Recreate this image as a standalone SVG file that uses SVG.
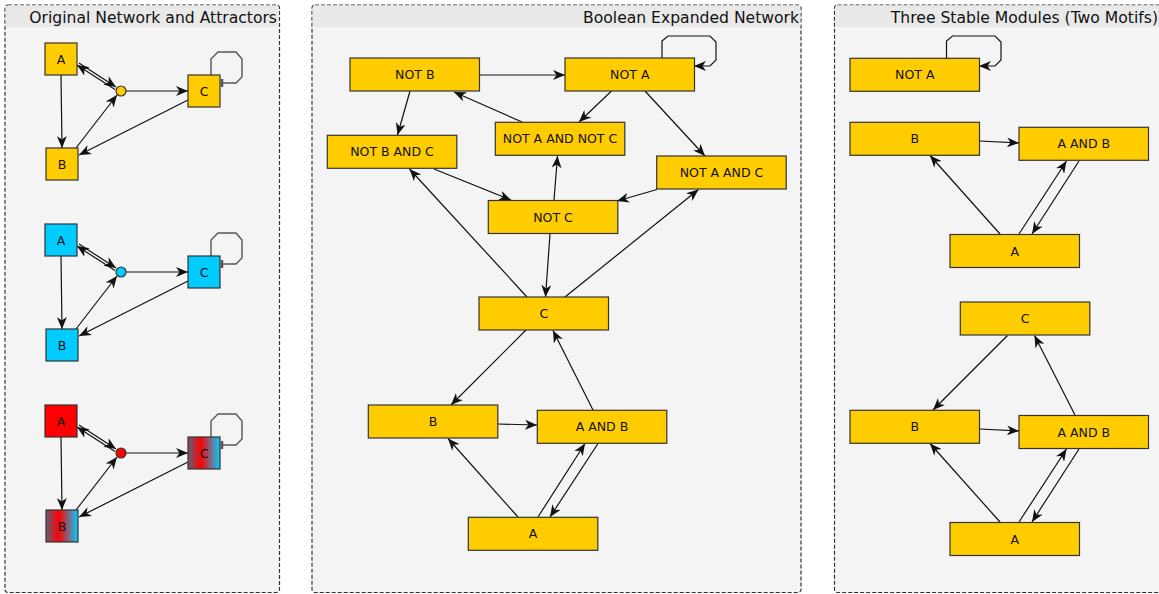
<svg xmlns="http://www.w3.org/2000/svg" width="1159" height="594" viewBox="0 0 1159 594">
<defs>
<style>
.panel{fill:#f4f4f4;stroke:#333;stroke-width:1.2;stroke-dasharray:4,2}
.hdr{fill:#e9e9e9}
.title{font-family:"DejaVu Sans",sans-serif;font-size:15.6px;fill:#111;text-anchor:end}
.nb{fill:#ffcc00;stroke:#333;stroke-width:1.2}
.cy{fill:#00ccff;stroke:#333;stroke-width:1.2}
.rd{fill:#ff0000;stroke:#333;stroke-width:1.2}
.gr{fill:url(#grad);stroke:#333;stroke-width:1.2}
.lbl{font-family:"DejaVu Sans",sans-serif;font-size:12.5px;fill:#111;text-anchor:middle}
.e{stroke:#111;stroke-width:1.2;fill:none;marker-end:url(#arr)}
.loop{stroke:#555;stroke-width:1.4;fill:none}
.tee{stroke:#555;stroke-width:2.5}
</style>
<linearGradient id="grad" x1="0" y1="0" x2="1" y2="0">
<stop offset="0" stop-color="#60607a"/>
<stop offset="0.4" stop-color="#ff0000"/>
<stop offset="1" stop-color="#00ccff"/>
</linearGradient>
<marker id="arr" viewBox="0 0 12 10" refX="12" refY="5" markerWidth="12" markerHeight="10" markerUnits="userSpaceOnUse" orient="auto">
<path d="M0,0 L12,5 L0,10 L3.5,5 z" fill="#111"/>
</marker>
</defs>

<g id="panels">
<rect class="panel" x="5" y="5" width="274.5" height="587.5" rx="3"/>
<path class="hdr" d="M5.6,27 L5.6,8 Q5.6,5.6 8,5.6 L276.5,5.6 Q278.9,5.6 278.9,8 L278.9,27 z"/>
<text class="title" x="277" y="22.5">Original Network and Attractors</text>
<rect class="panel" x="312" y="5" width="489" height="587.5" rx="3"/>
<path class="hdr" d="M312.6,27 L312.6,8 Q312.6,5.6 315,5.6 L798,5.6 Q800.4,5.6 800.4,8 L800.4,27 z"/>
<text class="title" x="799" y="22.5">Boolean Expanded Network</text>
<rect class="panel" x="834.5" y="5" width="330" height="587.5" rx="3"/>
<path class="hdr" d="M835.1,27 L835.1,8 Q835.1,5.6 837.5,5.6 L1164,5.6 L1164,27 z"/>
<text class="title" x="1158" y="22.5">Three Stable Modules (Two Motifs)</text>
</g>

<g id="connectors">
<g id="row1-edges">
<line class="e" x1="79" y1="63" x2="116" y2="87"/>
<line class="e" x1="115" y1="89.6" x2="77" y2="65"/>
<line class="e" x1="126" y1="91" x2="188" y2="91"/>
<line class="e" x1="61" y1="75" x2="62" y2="148"/>
<line class="e" x1="76" y1="148" x2="117" y2="95"/>
<line class="e" x1="188" y1="100" x2="79" y2="155"/>
<path class="loop" d="M211,75 L211,59 L218,52 L236,52 L242,59 L242,77 L236,83 L222,83"/>
<line class="tee" x1="222" y1="79" x2="222" y2="87"/>
</g>
<g id="row2-edges" transform="translate(0,181)">
<line class="e" x1="79" y1="63" x2="116" y2="87"/>
<line class="e" x1="115" y1="89.6" x2="77" y2="65"/>
<line class="e" x1="126" y1="91" x2="188" y2="91"/>
<line class="e" x1="61" y1="75" x2="62" y2="148"/>
<line class="e" x1="76" y1="148" x2="117" y2="95"/>
<line class="e" x1="188" y1="100" x2="79" y2="155"/>
<path class="loop" d="M211,75 L211,59 L218,52 L236,52 L242,59 L242,77 L236,83 L222,83"/>
<line class="tee" x1="222" y1="79" x2="222" y2="87"/>
</g>
<g id="row3-edges" transform="translate(0,362)">
<line class="e" x1="79" y1="63" x2="116" y2="87"/>
<line class="e" x1="115" y1="89.6" x2="77" y2="65"/>
<line class="e" x1="126" y1="91" x2="188" y2="91"/>
<line class="e" x1="61" y1="75" x2="62" y2="148"/>
<line class="e" x1="76" y1="148" x2="117" y2="95"/>
<line class="e" x1="188" y1="100" x2="79" y2="155"/>
<path class="loop" d="M211,75 L211,59 L218,52 L236,52 L242,59 L242,77 L236,83 L222,83"/>
<line class="tee" x1="222" y1="79" x2="222" y2="87"/>
</g>
<line class="e" x1="480" y1="75" x2="565" y2="75"/>
<path class="e" d="M662,58 L662,41 L668,36 L710,36 L716,42 L716,60 L710,66 L694,66"/>
<line class="e" x1="410" y1="91" x2="397.5" y2="135"/>
<line class="e" x1="522" y1="122" x2="454" y2="92"/>
<line class="e" x1="611.5" y1="91" x2="579" y2="122"/>
<line class="e" x1="645" y1="91" x2="705" y2="156"/>
<line class="e" x1="434" y1="169" x2="511" y2="200"/>
<line class="e" x1="657" y1="189.5" x2="617" y2="201"/>
<line class="e" x1="554" y1="200" x2="557.5" y2="156"/>
<line class="e" x1="527" y1="297" x2="409.5" y2="169"/>
<line class="e" x1="565" y1="297" x2="698.5" y2="189.5"/>
<line class="e" x1="550" y1="234" x2="545.5" y2="297"/>
<line class="e" x1="526" y1="330" x2="451" y2="405"/>
<line class="e" x1="593" y1="410" x2="553" y2="330.5"/>
<line class="e" x1="497.5" y1="424" x2="537" y2="425"/>
<line class="e" x1="518" y1="517" x2="448" y2="438.5"/>
<line class="e" x1="538" y1="517" x2="585" y2="443.5"/>
<line class="e" x1="598" y1="443.5" x2="550" y2="517"/>
<path class="e" d="M946.5,58 L946.5,41 L952.5,36 L995,36 L1001,42 L1001,60 L995,66 L979,66"/>
<line class="e" x1="979.5" y1="141" x2="1019" y2="143"/>
<line class="e" x1="1000" y1="234" x2="930" y2="155.5"/>
<line class="e" x1="1019" y1="234" x2="1066.5" y2="161"/>
<line class="e" x1="1079" y1="161" x2="1032" y2="234"/>
<line class="e" x1="1007.5" y1="335.5" x2="933" y2="410"/>
<line class="e" x1="1075" y1="415" x2="1034.5" y2="335.5"/>
<line class="e" x1="979.5" y1="429" x2="1019" y2="431"/>
<line class="e" x1="1000" y1="522" x2="930" y2="443.5"/>
<line class="e" x1="1019" y1="522" x2="1066.5" y2="449"/>
<line class="e" x1="1079" y1="449" x2="1032" y2="522"/>
</g>

<g id="r1-A"><rect class="nb" x="45" y="43" width="32" height="32"/><text class="lbl" x="61" y="63.5">A</text></g>
<g id="r1-B"><rect class="nb" x="46" y="148" width="32" height="32"/><text class="lbl" x="62" y="168.5">B</text></g>
<g id="r1-C"><rect class="nb" x="188" y="75" width="32" height="32"/><text class="lbl" x="204" y="95.5">C</text></g>
<g id="r1-and"><circle class="nb" cx="121" cy="91" r="5"/></g>

<g id="r2-A"><rect class="cy" x="45" y="224" width="32" height="32"/><text class="lbl" x="61" y="244.5">A</text></g>
<g id="r2-B"><rect class="cy" x="46" y="329" width="32" height="32"/><text class="lbl" x="62" y="349.5">B</text></g>
<g id="r2-C"><rect class="cy" x="188" y="256" width="32" height="32"/><text class="lbl" x="204" y="276.5">C</text></g>
<g id="r2-and"><circle class="cy" cx="121" cy="272" r="5"/></g>

<g id="r3-A"><rect class="rd" x="45" y="405" width="32" height="32"/><text class="lbl" x="61" y="425.5">A</text></g>
<g id="r3-B"><rect class="gr" x="46" y="510" width="32" height="32"/><text class="lbl" x="62" y="530.5">B</text></g>
<g id="r3-C"><rect class="gr" x="188" y="437" width="32" height="32"/><text class="lbl" x="204" y="457.5">C</text></g>
<g id="r3-and"><circle class="rd" cx="121" cy="453" r="5"/></g>

<g id="m-notB"><rect class="nb" x="350" y="58" width="129.5" height="33"/><text class="lbl" x="414.8" y="79">NOT B</text></g>
<g id="m-notA"><rect class="nb" x="565" y="58" width="129.5" height="33"/><text class="lbl" x="629.8" y="79">NOT A</text></g>
<g id="m-notBandC"><rect class="nb" x="327.3" y="135.3" width="129.5" height="33"/><text class="lbl" x="392" y="156.3">NOT B AND C</text></g>
<g id="m-notAandnotC"><rect class="nb" x="495.3" y="122.3" width="129.5" height="33"/><text class="lbl" x="560" y="143.3">NOT A AND NOT C</text></g>
<g id="m-notAandC"><rect class="nb" x="656.7" y="156" width="129.5" height="33"/><text class="lbl" x="721.5" y="177">NOT A AND C</text></g>
<g id="m-notC"><rect class="nb" x="488.3" y="200.5" width="129.5" height="33"/><text class="lbl" x="553" y="221.5">NOT C</text></g>
<g id="m-C"><rect class="nb" x="479" y="297" width="129.5" height="33"/><text class="lbl" x="543.8" y="318">C</text></g>
<g id="m-B"><rect class="nb" x="368.3" y="405" width="129.5" height="33"/><text class="lbl" x="433" y="426">B</text></g>
<g id="m-AandB"><rect class="nb" x="537.3" y="410.3" width="129.5" height="33"/><text class="lbl" x="602" y="431.3">A AND B</text></g>
<g id="m-A"><rect class="nb" x="468.3" y="517.3" width="129.5" height="33"/><text class="lbl" x="533" y="538.3">A</text></g>

<g id="s-notA"><rect class="nb" x="850" y="58.3" width="129.5" height="33"/><text class="lbl" x="914.8" y="79.3">NOT A</text></g>
<g id="s1-B"><rect class="nb" x="850" y="122.3" width="129.5" height="33"/><text class="lbl" x="914.8" y="143.3">B</text></g>
<g id="s1-AandB"><rect class="nb" x="1019" y="127.3" width="129.5" height="33"/><text class="lbl" x="1083.8" y="148.3">A AND B</text></g>
<g id="s1-A"><rect class="nb" x="950" y="234.5" width="129.5" height="33"/><text class="lbl" x="1014.8" y="255.5">A</text></g>
<g id="s2-C"><rect class="nb" x="960.3" y="302" width="129.5" height="33"/><text class="lbl" x="1025" y="323">C</text></g>
<g id="s2-B"><rect class="nb" x="850" y="410.3" width="129.5" height="33"/><text class="lbl" x="914.8" y="431.3">B</text></g>
<g id="s2-AandB"><rect class="nb" x="1019" y="415.5" width="129.5" height="33"/><text class="lbl" x="1083.8" y="436.5">A AND B</text></g>
<g id="s2-A"><rect class="nb" x="950" y="522.5" width="129.5" height="33"/><text class="lbl" x="1014.8" y="543.5">A</text></g>
</svg>
